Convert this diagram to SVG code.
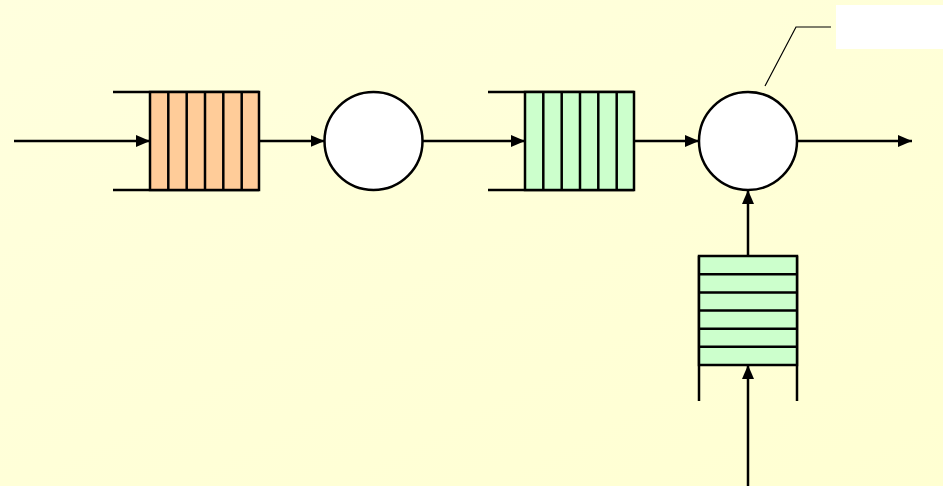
<svg xmlns="http://www.w3.org/2000/svg" width="943" height="486" viewBox="0 0 943 486">
  <defs>
    <linearGradient id="bg" x1="0" y1="0" x2="1" y2="1">
      <stop offset="0" stop-color="#FFFFDE"/>
      <stop offset="1" stop-color="#FFFFD2"/>
    </linearGradient>
    <marker id="arrow" viewBox="0 0 14 12" refX="14" refY="6" markerWidth="14" markerHeight="12" markerUnits="userSpaceOnUse" orient="auto">
      <path d="M0,0 L14,6 L0,12 Z" fill="#000"/>
    </marker>
    <style>
      .line { stroke: #000; stroke-width: 2.5; fill: none; }
      .thin { stroke: #000; stroke-width: 1.2; fill: none; }
      .orange { fill: #FFCC99; stroke: #000; stroke-width: 2.5; }
      .green { fill: #CCFFCC; stroke: #000; stroke-width: 2.5; }
      .server { fill: #FFFFFF; stroke: #000; stroke-width: 2.5; }
    </style>
  </defs>

  <rect x="0" y="0" width="943" height="486" fill="url(#bg)"/>

  <!-- first queue (orange) -->
  <g id="queue1">
    <line class="line" x1="113" y1="92" x2="259" y2="92"/>
    <line class="line" x1="113" y1="190" x2="259" y2="190"/>
    <rect class="orange" x="150" y="92" width="109" height="98"/>
    <path class="line" d="M168.3,92V190 M186.7,92V190 M205,92V190 M223.3,92V190 M241.7,92V190"/>
  </g>

  <!-- first server -->
  <g id="server1">
    <circle class="server" cx="373.5" cy="141" r="49"/>
  </g>

  <!-- second queue (green) -->
  <g id="queue2">
    <line class="line" x1="488" y1="92" x2="634" y2="92"/>
    <line class="line" x1="488" y1="190" x2="634" y2="190"/>
    <rect class="green" x="525" y="92" width="109" height="98"/>
    <path class="line" d="M543.3,92V190 M561.7,92V190 M580,92V190 M598.3,92V190 M616.7,92V190"/>
  </g>

  <!-- second server -->
  <g id="server2">
    <circle class="server" cx="748" cy="141" r="49"/>
  </g>

  <!-- vertical queue feeding the second server -->
  <g id="queue3">
    <line class="line" x1="699" y1="256" x2="699" y2="401"/>
    <line class="line" x1="797" y1="256" x2="797" y2="401"/>
    <rect class="green" x="699" y="256" width="98" height="109"/>
    <path class="line" d="M699,274.3H797 M699,292.5H797 M699,310.5H797 M699,328.7H797 M699,346.8H797"/>
  </g>

  <!-- callout label box -->
  <g id="label">
    <rect x="836" y="5" width="107" height="44" fill="#FFFFFF"/>
  </g>

  <!-- connectors -->
  <g id="connectors">
    <line class="line" x1="14" y1="141" x2="150" y2="141" marker-end="url(#arrow)"/>
    <line class="line" x1="259" y1="141" x2="324.5" y2="141" marker-end="url(#arrow)"/>
    <line class="line" x1="422.5" y1="141" x2="525" y2="141" marker-end="url(#arrow)"/>
    <line class="line" x1="634" y1="141" x2="699" y2="141" marker-end="url(#arrow)"/>
    <line class="line" x1="797" y1="141" x2="912" y2="141" marker-end="url(#arrow)"/>
    <line class="line" x1="748" y1="256" x2="748" y2="190" marker-end="url(#arrow)"/>
    <line class="line" x1="748" y1="486" x2="748" y2="365" marker-end="url(#arrow)"/>
    <polyline class="thin" points="765,86 796,27 831,27"/>
  </g>
</svg>
